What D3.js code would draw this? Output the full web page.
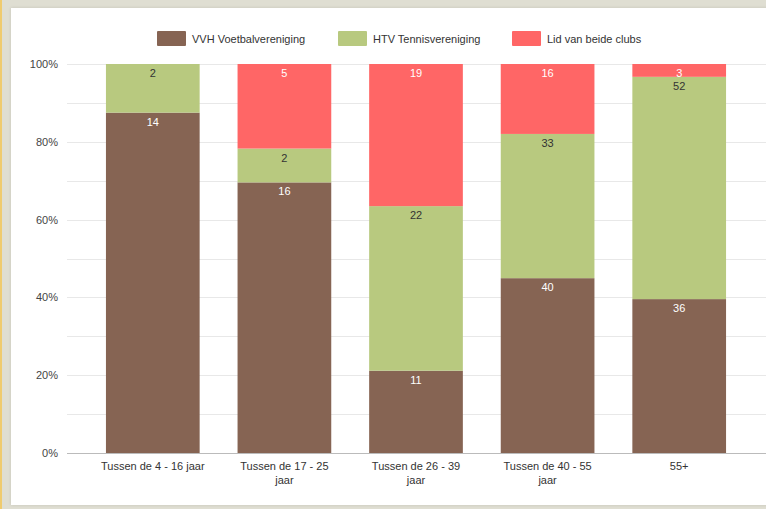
<!DOCTYPE html>
<html>
<head>
<meta charset="utf-8">
<script src="https://cdn.jsdelivr.net/npm/d3@7"></script>
<style>
  html, body { margin: 0; padding: 0; }
  body {
    width: 766px; height: 509px; overflow: hidden;
    background: #dfded2;
    font-family: Arial, "Liberation Sans", sans-serif;
    position: relative;
  }
  #edge { position: absolute; left: 0; top: 0; width: 2px; height: 509px; background: #efcb6f; }
  #panel {
    position: absolute; left: 11px; top: 8px; width: 760px; height: 497px;
    background: #fff; box-shadow: 0 0 3px rgba(0,0,0,0.12);
  }
  svg { position: absolute; left: 0; top: 0; }
</style>
</head>
<body>
<div id="edge"></div>
<div id="panel"></div>
<div id="chart"></div>
<script>
// Chart data
const categories = [
    "Tussen de 4 - 16 jaar",
    "Tussen de 17 - 25 jaar",
    "Tussen de 26 - 39 jaar",
    "Tussen de 40 - 55 jaar",
    "55+"
];
const seriesNames = ["VVH Voetbalvereniging", "HTV Tennisvereniging", "Lid van beide clubs"];
const voetbal = [14, 16, 11, 40, 36];
const tennis = [2, 2, 22, 33, 52];
const beide = [0, 5, 19, 16, 3];
const yTicks = [0, 0.2, 0.4, 0.6, 0.8, 1];

const colors = ["#866453", "#b8c97f", "#ff6666"];
const labelColors = ["#fff", "#333", "#fff"];

const svgWidth = 766;
const svgHeight = 509;

// plot area
const plotLeft = 87, plotRight = 745;
const plotTop = 64, plotBottom = 453;

// max width of one x label line
const wrapWidth = 104;

const svg = d3.select("#chart")
              .append("svg")
              .attr("width", svgWidth)
              .attr("height", svgHeight);

// Build table for stacking (normalised to 100%)
const table = categories.map((c, i) => {
    const total = voetbal[i] + tennis[i] + beide[i];
    return {
        cat: c,
        raw: [voetbal[i], tennis[i], beide[i]],
        s0: voetbal[i] / total,
        s1: tennis[i] / total,
        s2: beide[i] / total
    };
});

const stack = d3.stack().keys(["s0", "s1", "s2"]);
const stacked = stack(table);

const x = d3.scaleBand()
            .domain(categories)
            .range([plotLeft, plotRight])
            .paddingInner(0.288)
            .paddingOuter(0.144);

const y = d3.scaleLinear()
            .domain([0, 1])
            .range([plotBottom, plotTop]);

// Gridlines (every 10%)
svg.append("g")
   .selectAll("line")
   .data(d3.range(1, 11).map(d => d / 10))
   .enter()
   .append("line")
   .attr("x1", 67)
   .attr("x2", svgWidth)
   .attr("y1", d => Math.round(y(d)) + 0.5)
   .attr("y2", d => Math.round(y(d)) + 0.5)
   .attr("stroke", "#e8e8e8")
   .attr("stroke-width", 1);

// Y axis labels
const yAxis = svg.append("g")
                 .attr("transform", `translate(67, 0)`)
                 .call(d3.axisLeft(y).tickValues(yTicks).tickFormat(d3.format(".0%")).tickSize(0).tickPadding(9));
yAxis.select(".domain").remove();
yAxis.selectAll("text")
     .attr("fill", "#444")
     .style("font-size", "11px")
     .style("font-family", "Arial, 'Liberation Sans', sans-serif");

// Bars
const layers = svg.append("g")
                  .selectAll("g")
                  .data(stacked)
                  .enter()
                  .append("g")
                  .attr("fill", (d, i) => colors[i]);

layers.selectAll("rect")
      .data(d => d)
      .enter()
      .append("rect")
      .attr("x", d => x(d.data.cat))
      .attr("y", d => y(d[1]))
      .attr("width", x.bandwidth())
      .attr("height", d => y(d[0]) - y(d[1]));

// Baseline
svg.append("line")
   .attr("x1", 67)
   .attr("x2", svgWidth)
   .attr("y1", plotBottom + 0.5)
   .attr("y2", plotBottom + 0.5)
   .attr("stroke", "#bbb");

// Value labels
stacked.forEach((layer, k) => {
    svg.append("g")
       .selectAll("text")
       .data(layer.filter(d => d.data.raw[k] > 0))
       .enter()
       .append("text")
       .attr("x", d => x(d.data.cat) + x.bandwidth() / 2)
       .attr("y", d => y(d[1]) + 13)
       .attr("text-anchor", "middle")
       .attr("fill", labelColors[k])
       .style("font-size", "11px")
       .text(d => d.data.raw[k]);
});

// X axis labels with wrapping
const xLabels = svg.append("g")
                   .selectAll("text")
                   .data(categories)
                   .enter()
                   .append("text")
                   .attr("x", d => x(d) + x.bandwidth() / 2)
                   .attr("y", 470)
                   .attr("text-anchor", "middle")
                   .attr("fill", "#333")
                   .style("font-size", "11px");

xLabels.each(function(d) {
    const el = d3.select(this);
    const words = d.split(" ");
    let line = [];
    let tspan = el.append("tspan").attr("x", x(d) + x.bandwidth() / 2);
    words.forEach(w => {
        line.push(w);
        tspan.text(line.join(" "));
        if (tspan.node().getComputedTextLength() > wrapWidth && line.length > 1) {
            line.pop();
            tspan.text(line.join(" "));
            line = [w];
            tspan = el.append("tspan")
                      .attr("x", x(d) + x.bandwidth() / 2)
                      .attr("dy", 14)
                      .text(w);
        }
    });
});

// Legend
const legendX = [157, 338, 512];
const legend = svg.append("g")
                  .selectAll("g")
                  .data(seriesNames)
                  .enter()
                  .append("g")
                  .attr("transform", (d, i) => `translate(${legendX[i]}, 31)`);

legend.append("rect")
      .attr("width", 29)
      .attr("height", 15)
      .attr("rx", 1)
      .attr("fill", (d, i) => colors[i]);

legend.append("text")
      .attr("x", 35)
      .attr("y", 12)
      .attr("fill", "#333")
      .style("font-size", "11px")
      .text(d => d);
</script>
</body>
</html>
